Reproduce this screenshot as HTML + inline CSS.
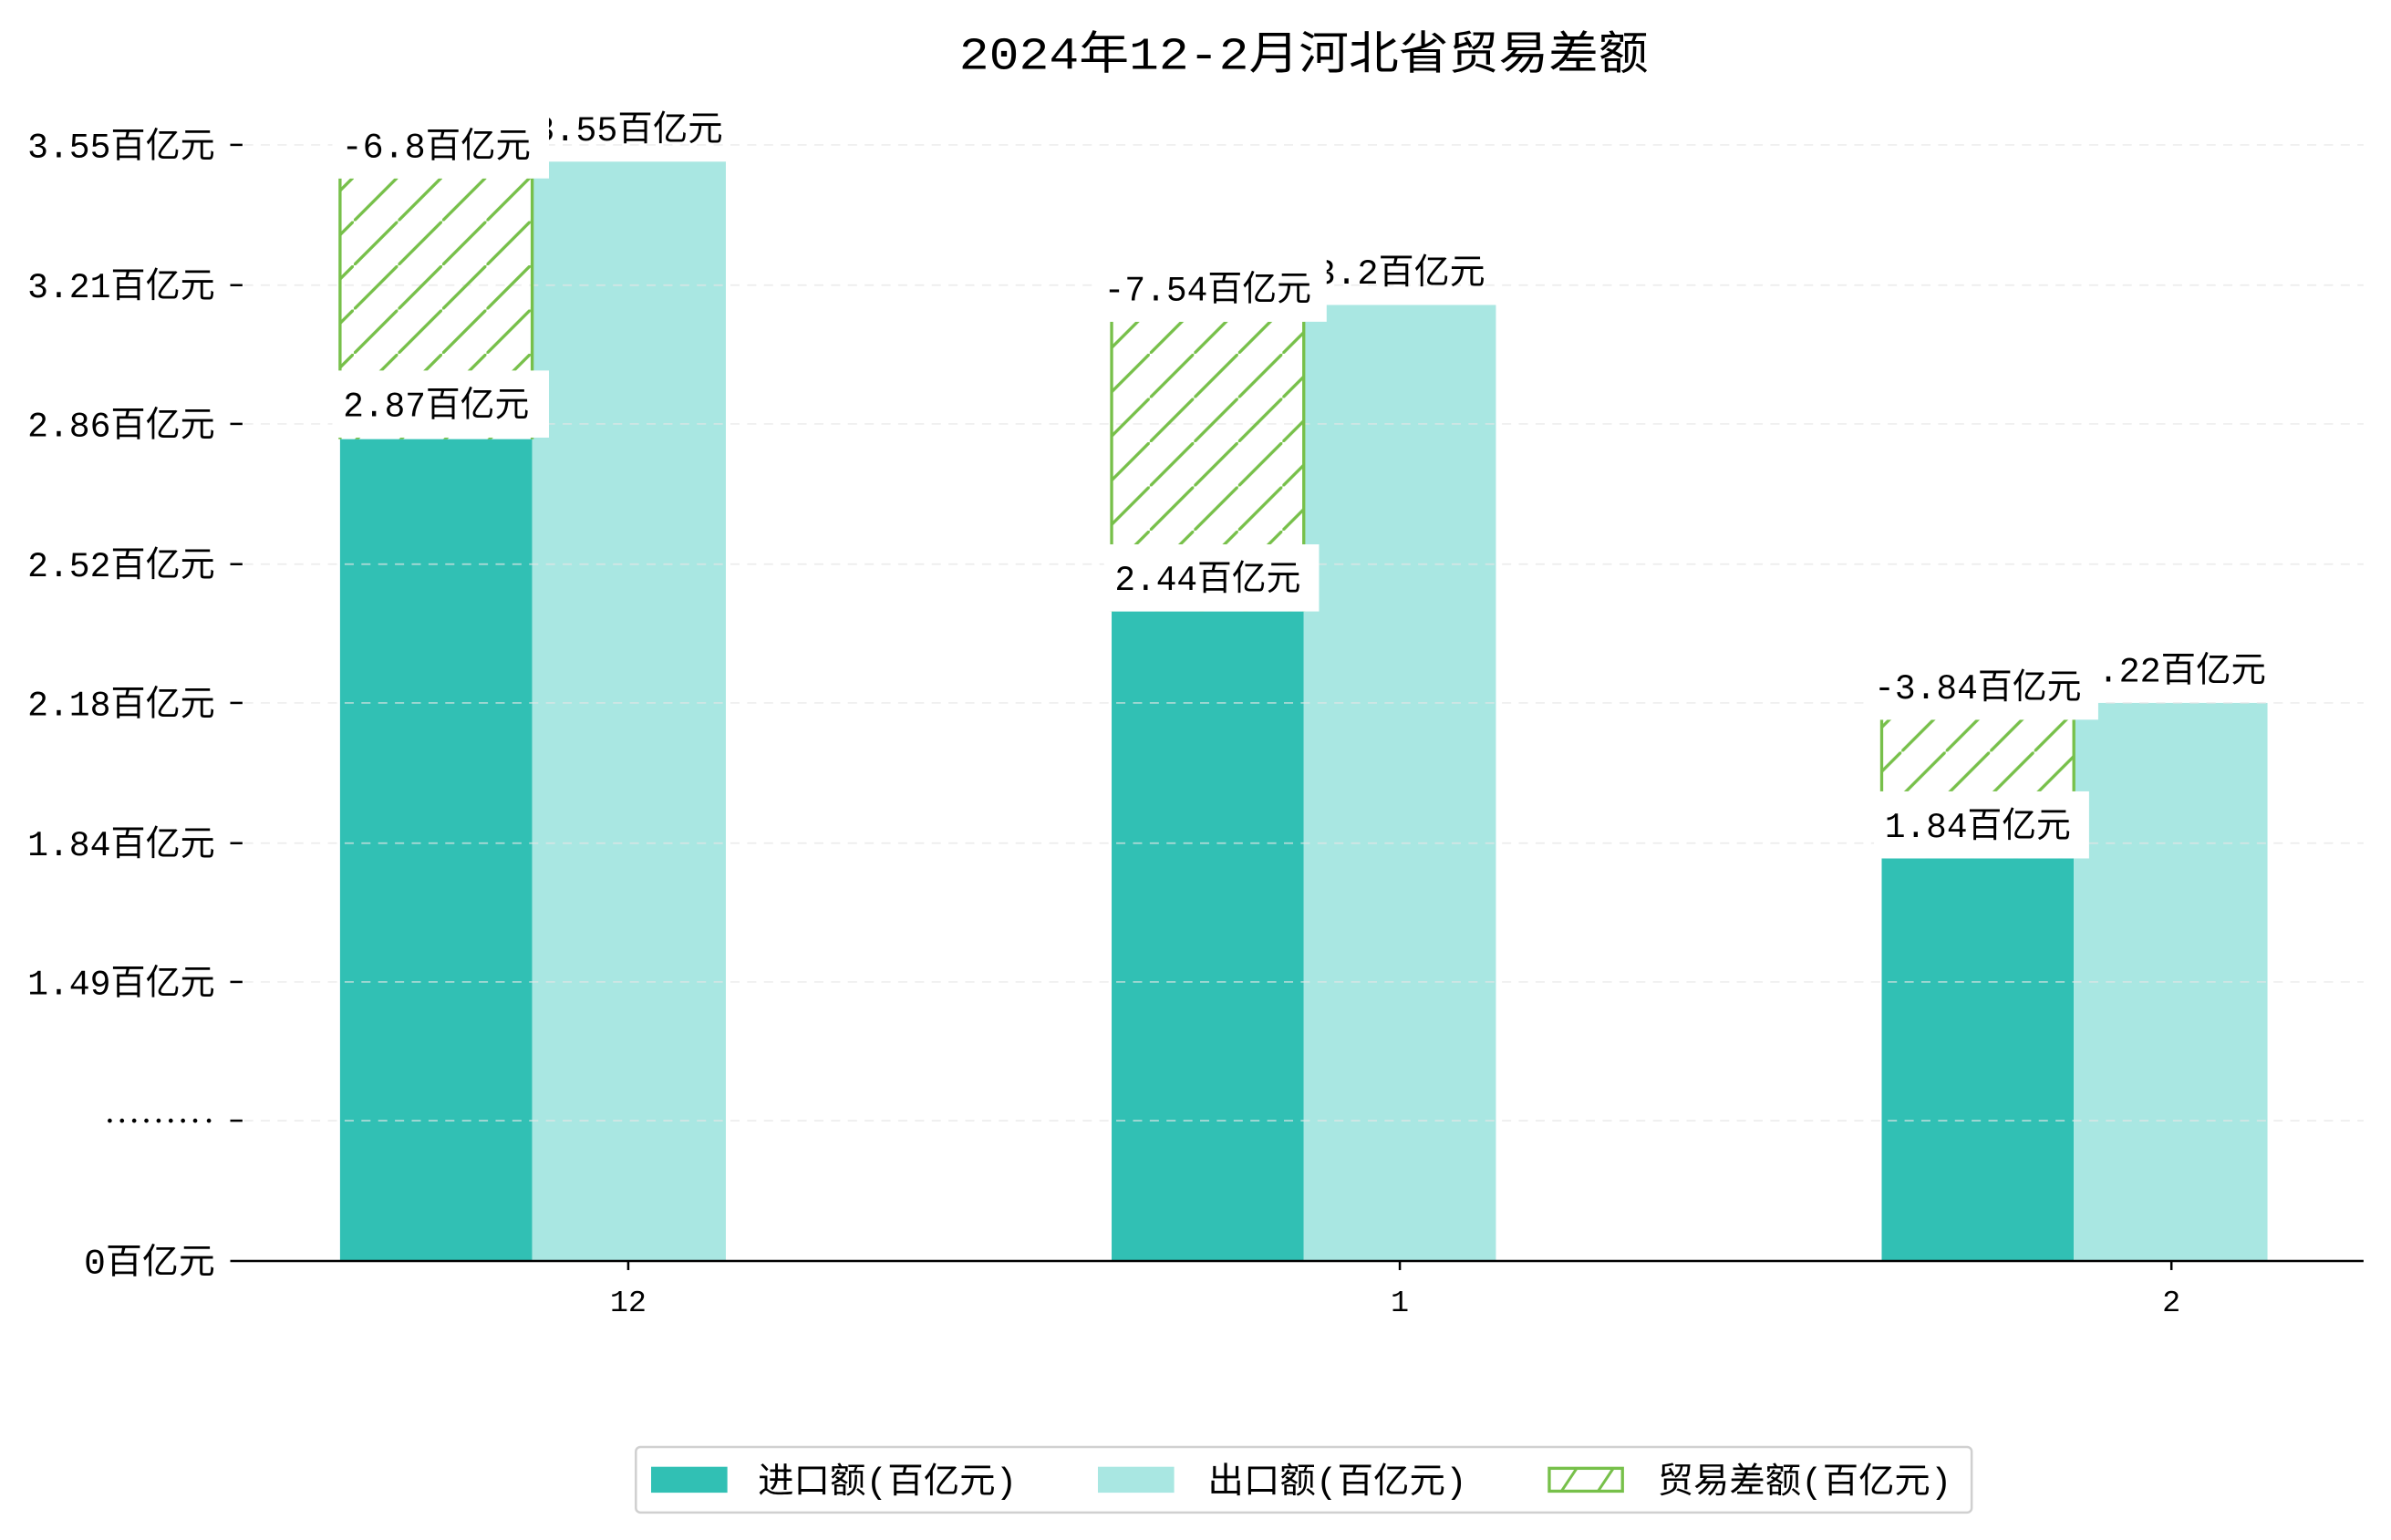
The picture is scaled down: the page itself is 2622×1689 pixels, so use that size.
<!DOCTYPE html>
<html><head><meta charset="utf-8"><style>html,body{margin:0;padding:0;background:#fff}svg{display:block}text{font-family:"Liberation Mono","Noto Sans CJK SC",monospace;fill:#000}</style></head>
<body>
<svg width="2622" height="1689" viewBox="0 0 1568 1010" xmlns="http://www.w3.org/2000/svg">
<defs>
<pattern id="h" patternUnits="userSpaceOnUse" width="29" height="29">
<line x1="-5" y1="34" x2="34" y2="-5" stroke="#77c04a" stroke-width="2"/>
</pattern>
</defs>
<rect width="1568" height="1010" fill="#fff"/>
<text x="855" y="45" font-size="30" text-anchor="middle" textLength="452" lengthAdjust="spacingAndGlyphs">2024年12-2月河北省贸易差额</text>
<rect x="223" y="288" width="126" height="539" fill="#31c0b4"/>
<rect x="349" y="106" width="127" height="721" fill="#a9e7e2"/>
<rect x="729" y="401" width="126" height="426" fill="#31c0b4"/>
<rect x="855" y="200" width="126" height="627" fill="#a9e7e2"/>
<rect x="1234" y="563" width="126" height="264" fill="#31c0b4"/>
<rect x="1360" y="461" width="127" height="366" fill="#a9e7e2"/>
<g stroke="#e6e6e6" stroke-width="1" stroke-dasharray="6,5" opacity="0.7">
<line x1="160" x2="1550" y1="95" y2="95"/><line x1="160" x2="1550" y1="187" y2="187"/>
<line x1="160" x2="1550" y1="278" y2="278"/><line x1="160" x2="1550" y1="370" y2="370"/>
<line x1="160" x2="1550" y1="461" y2="461"/><line x1="160" x2="1550" y1="553" y2="553"/>
<line x1="160" x2="1550" y1="644" y2="644"/><line x1="160" x2="1550" y1="735" y2="735"/>
</g>
<g stroke="#77c04a" stroke-width="2">
<rect x="223" y="117" width="126" height="171" fill="url(#h)" stroke="none"/>
<line x1="223" y1="117" x2="223" y2="288"/><line x1="349" y1="117" x2="349" y2="288"/>
<rect x="729" y="211" width="126" height="190" fill="url(#h)" stroke="none"/>
<line x1="729" y1="211" x2="729" y2="401"/><line x1="855" y1="211" x2="855" y2="401"/>
<rect x="1234" y="472" width="126" height="91" fill="url(#h)" stroke="none"/>
<line x1="1234" y1="472" x2="1234" y2="563"/><line x1="1360" y1="472" x2="1360" y2="563"/>
</g>
<g font-size="23" text-anchor="middle">
<text x="412" y="92" textLength="124" lengthAdjust="spacingAndGlyphs">3.55百亿元</text>
<text x="918" y="186" textLength="112" lengthAdjust="spacingAndGlyphs">3.2百亿元</text>
<text x="1424" y="447" textLength="124" lengthAdjust="spacingAndGlyphs">2.22百亿元</text>
</g>
<g fill="#fff">
<rect x="218" y="75" width="142" height="42"/><rect x="218" y="243" width="142" height="44"/>
<rect x="718" y="170" width="152" height="41"/><rect x="724" y="357" width="141" height="44"/>
<rect x="1223" y="430" width="153" height="42"/><rect x="1229" y="519" width="141" height="44"/>
</g>
<g font-size="23" text-anchor="middle">
<text x="286" y="103" textLength="124" lengthAdjust="spacingAndGlyphs">-6.8百亿元</text>
<text x="286" y="273" textLength="122" lengthAdjust="spacingAndGlyphs">2.87百亿元</text>
<text x="792" y="197" textLength="136" lengthAdjust="spacingAndGlyphs">-7.54百亿元</text>
<text x="792" y="387" textLength="122" lengthAdjust="spacingAndGlyphs">2.44百亿元</text>
<text x="1297" y="458" textLength="136" lengthAdjust="spacingAndGlyphs">-3.84百亿元</text>
<text x="1297" y="549" textLength="122" lengthAdjust="spacingAndGlyphs">1.84百亿元</text>
</g>
<line x1="151" y1="827" x2="1550" y2="827" stroke="#000" stroke-width="1.5"/>
<g stroke="#000" stroke-width="1.5">
<line x1="151" x2="159" y1="95" y2="95"/><line x1="151" x2="159" y1="187" y2="187"/>
<line x1="151" x2="159" y1="278" y2="278"/><line x1="151" x2="159" y1="370" y2="370"/>
<line x1="151" x2="159" y1="461" y2="461"/><line x1="151" x2="159" y1="553" y2="553"/>
<line x1="151" x2="159" y1="644" y2="644"/><line x1="151" x2="159" y1="735" y2="735"/>
<line x1="412" x2="412" y1="827" y2="833"/><line x1="918" x2="918" y1="827" y2="833"/><line x1="1424" x2="1424" y1="827" y2="833"/>
</g>
<g font-size="23" text-anchor="end">
<text x="141" y="103" textLength="123" lengthAdjust="spacingAndGlyphs">3.55百亿元</text>
<text x="141" y="195" textLength="123" lengthAdjust="spacingAndGlyphs">3.21百亿元</text>
<text x="141" y="286" textLength="123" lengthAdjust="spacingAndGlyphs">2.86百亿元</text>
<text x="141" y="378" textLength="123" lengthAdjust="spacingAndGlyphs">2.52百亿元</text>
<text x="141" y="469" textLength="123" lengthAdjust="spacingAndGlyphs">2.18百亿元</text>
<text x="141" y="561" textLength="123" lengthAdjust="spacingAndGlyphs">1.84百亿元</text>
<text x="141" y="652" textLength="123" lengthAdjust="spacingAndGlyphs">1.49百亿元</text>
<text x="141" y="835" textLength="86" lengthAdjust="spacingAndGlyphs">0百亿元</text>
</g>
<g fill="#000">
<circle cx="72" cy="735" r="1.4"/><circle cx="80" cy="735" r="1.4"/><circle cx="88" cy="735" r="1.4"/>
<circle cx="96" cy="735" r="1.4"/><circle cx="104" cy="735" r="1.4"/><circle cx="112" cy="735" r="1.4"/>
<circle cx="120" cy="735" r="1.4"/><circle cx="128" cy="735" r="1.4"/><circle cx="137" cy="735" r="1.4"/>
</g>
<g font-size="20" text-anchor="middle">
<text x="412" y="860">12</text><text x="918" y="860">1</text><text x="1424" y="860">2</text>
</g>
<rect x="417" y="949" width="876" height="43" rx="3" fill="#fff" stroke="#d0d0d0" stroke-width="1.5"/>
<rect x="427" y="962" width="50" height="17" fill="#31c0b4"/>
<rect x="720" y="962" width="50" height="17" fill="#a9e7e2"/>
<rect x="1016" y="963" width="48" height="15" fill="#fff" stroke="#77c04a" stroke-width="2"/>
<line x1="1024" y1="978" x2="1034" y2="963" stroke="#77c04a" stroke-width="1.8"/>
<line x1="1048" y1="978" x2="1058" y2="963" stroke="#77c04a" stroke-width="1.8"/>
<g font-size="23">
<text x="497" y="979" textLength="170" lengthAdjust="spacingAndGlyphs">进口额(百亿元)</text>
<text x="792" y="979" textLength="170" lengthAdjust="spacingAndGlyphs">出口额(百亿元)</text>
<text x="1087" y="979" textLength="193" lengthAdjust="spacingAndGlyphs">贸易差额(百亿元)</text>
</g>
</svg>
</body></html>
